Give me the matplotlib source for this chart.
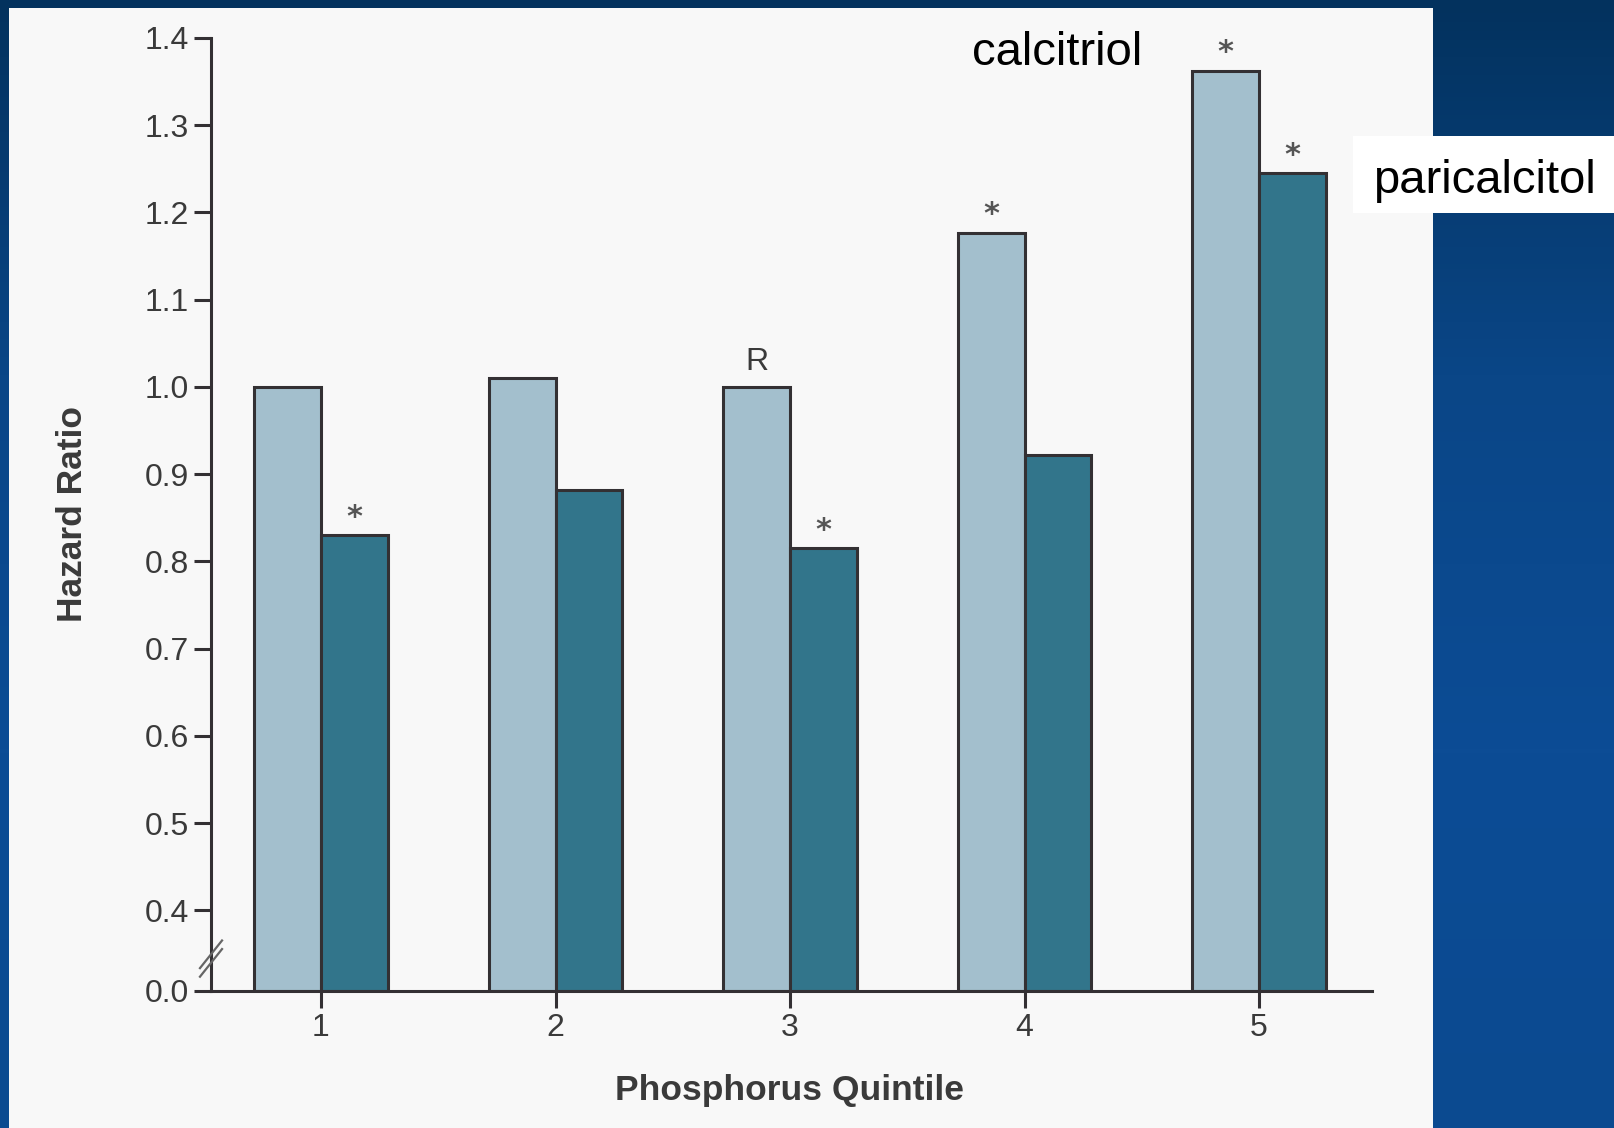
import matplotlib
matplotlib.use("Agg")
import matplotlib.pyplot as plt
import numpy as np
from matplotlib.patches import Rectangle
from matplotlib.lines import Line2D
from matplotlib.colors import LinearSegmentedColormap

# ---------------- data ----------------
quintiles = [1, 2, 3, 4, 5]
quintile_labels = ["1", "2", "3", "4", "5"]
calcitriol = [1.00, 1.01, 1.00, 1.177, 1.362]
paricalcitol = [0.830, 0.882, 0.815, 0.922, 1.245]
calcitriol_marks = ["", "", "R", "*", "*"]
paricalcitol_marks = ["*", "", "*", "", "*"]
ytick_values = [0.4, 0.5, 0.6, 0.7, 0.8, 0.9, 1.0, 1.1, 1.2, 1.3, 1.4]
ytick_labels = ["0.4", "0.5", "0.6", "0.7", "0.8", "0.9", "1.0", "1.1", "1.2", "1.3", "1.4"]
y_break_base = 0.3077   # position on the broken axis where "0.0" is drawn

# ---------------- style ----------------
W, H = 1615, 1128
DPI = 100
LIGHT = "#a3bfcd"
DARK = "#32758b"
EDGE = "#333033"
TXT = "#3a3a3a"
SANS = ["Liberation Sans", "DejaVu Sans"]

fig = plt.figure(figsize=(W / DPI, H / DPI), dpi=DPI)

# blue background gradient
bg = fig.add_axes([0, 0, 1, 1], zorder=-10)
grad = np.linspace(0, 1, 256).reshape(-1, 1)
cmap = LinearSegmentedColormap.from_list("bg", ["#03325e", "#0a4687", "#0c4c95", "#0b4a90"])
bg.imshow(grad, aspect="auto", cmap=cmap, extent=[0, 1, 0, 1])
bg.set_axis_off()

# light panel
fig.patches.append(Rectangle((9 / W, 0), (1433 - 9) / W, (H - 8) / H,
                             transform=fig.transFigure, facecolor="#f8f8f8",
                             edgecolor="none", zorder=-5))
# white label box for paricalcitol
fig.patches.append(Rectangle((1353 / W, (H - 213) / H), (W - 1353) / W, 77 / H,
                             transform=fig.transFigure, facecolor="white",
                             edgecolor="none", zorder=-4))

ax = fig.add_axes([211 / W, (H - 991) / H, (1372 - 211) / W, (991 - 38) / H])
ax.set_facecolor("none")

bw = 0.285
x = np.array(quintiles, dtype=float)
cal_h = np.array(calcitriol) - y_break_base
par_h = np.array(paricalcitol) - y_break_base
ax.bar(x - bw / 2, cal_h, bw, bottom=y_break_base, color=LIGHT,
       edgecolor=EDGE, linewidth=2.2, zorder=3)
ax.bar(x + bw / 2, par_h, bw, bottom=y_break_base, color=DARK,
       edgecolor=EDGE, linewidth=2.2, zorder=3)

STAR = dict(ha="center", va="baseline", fontsize=22, color="#555555",
            family="DejaVu Sans", fontweight="bold")
for xi, v, m in zip(x, calcitriol, calcitriol_marks):
    if m == "*":
        ax.annotate(m, (xi - bw / 2, v), xytext=(0, 7), textcoords="offset points", **STAR)
    elif m:
        ax.annotate(m, (xi - bw / 2, v), xytext=(0, 12), textcoords="offset points",
                    ha="center", va="baseline", fontsize=23, color=TXT, family=SANS)
for xi, v, m in zip(x, paricalcitol, paricalcitol_marks):
    if m:
        ax.annotate(m, (xi + bw / 2, v), xytext=(0, 7), textcoords="offset points", **STAR)

ax.set_xlim(1 - 110 / 234.5, 5 + 113 / 234.5)
ax.set_ylim(y_break_base, 1.4)
ax.set_xticks(x)
ax.set_xticklabels(quintile_labels)
ax.set_yticks([y_break_base] + ytick_values)
ax.set_yticklabels(["0.0"] + ytick_labels)

for s in ["top", "right"]:
    ax.spines[s].set_visible(False)
for s in ["left", "bottom"]:
    ax.spines[s].set_linewidth(2.2)
    ax.spines[s].set_color(EDGE)
    ax.spines[s].set_zorder(4)
ax.tick_params(axis="both", length=12.5, width=2.2, color=EDGE, pad=3.5,
               labelsize=23, labelcolor=TXT)
for lab in ax.get_xticklabels() + ax.get_yticklabels():
    lab.set_family(SANS)

# axis break marks
for dy in (0.0, 0.009):
    ax.add_line(Line2D([-0.0095, 0.0095], [0.024 - dy, 0.053 - dy],
                       transform=ax.transAxes, color="#666666", lw=1.6,
                       clip_on=False, zorder=5))

# axis titles
fig.text(72 / W, 1 - 514 / H, "Hazard Ratio", rotation=90, ha="center", va="center",
         fontsize=25.5, fontweight="bold", color=TXT, family=SANS)
fig.text(790 / W, 1 - 1100 / H, "Phosphorus Quintile", ha="center", va="baseline",
         fontsize=25.5, fontweight="bold", color=TXT, family=SANS)

# series labels
fig.text(1057 / W, 1 - 65 / H, "calcitriol", ha="center", va="baseline",
         fontsize=34, color="black", family=SANS)
fig.text(1484 / W, 1 - 193 / H, "paricalcitol", ha="center", va="baseline",
         fontsize=34, color="black", family=SANS)

fig.savefig("out.png", dpi=DPI)
